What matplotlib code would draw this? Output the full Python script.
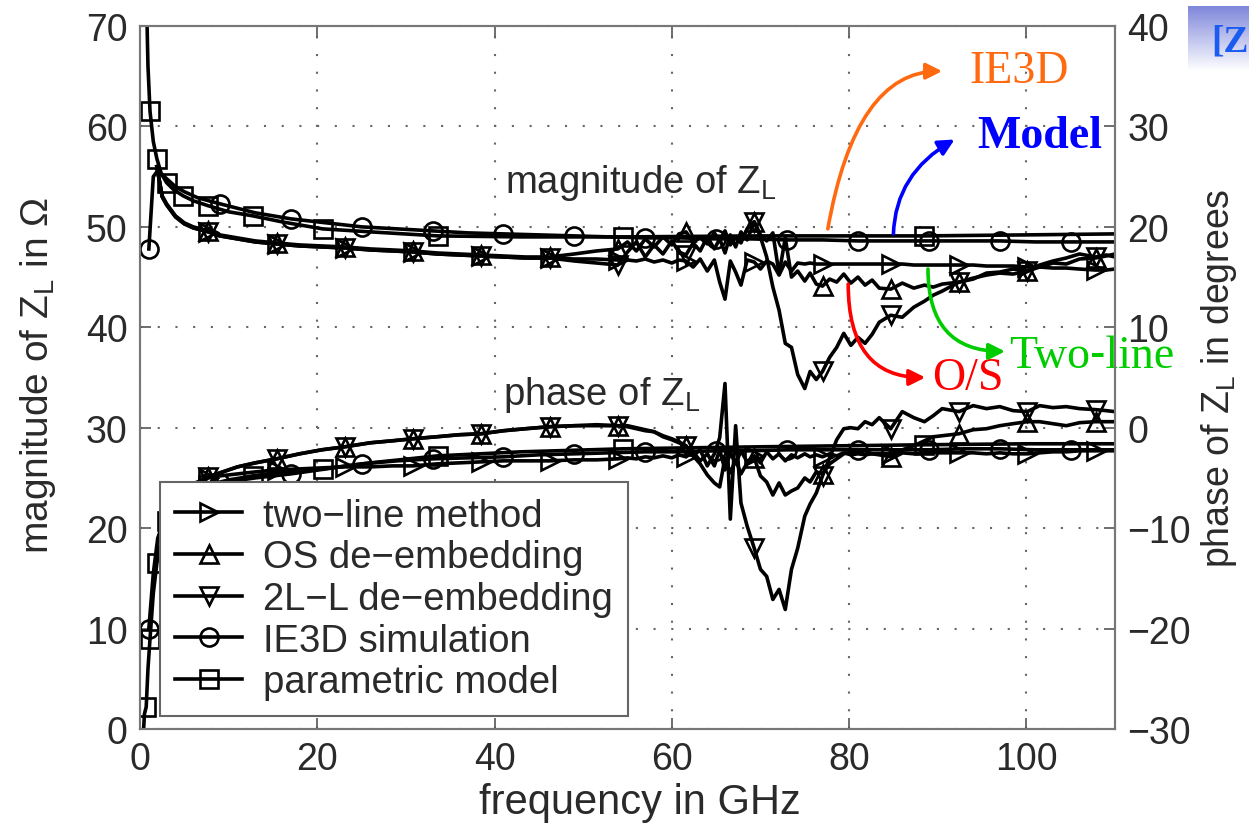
import numpy as np
import matplotlib
matplotlib.use("Agg")
import matplotlib.pyplot as plt

plt.rcParams['font.family'] = ['Liberation Sans', 'DejaVu Sans']
plt.rcParams['mathtext.fontset'] = 'custom'
plt.rcParams['mathtext.rm'] = 'Liberation Sans'
plt.rcParams['mathtext.it'] = 'Liberation Sans:italic'

nan = np.nan

# measured data (two-line, OS, 2L-L) share one frequency grid, GHz
f_meas = [1.9, 2.5, 3, 4, 5, 6,
          7.7, 9, 11, 13,
          15.4, 18, 20.5,
          23.1, 26, 28.5,
          30.8, 33.5, 36,
          38.5, 41, 43.5,
          46.2, 49, 51.5,
          53.9, 55, 56, 57, 58, 59, 60, 60.8,
          61.6, 62.4, 63.2, 64, 64.8, 65.4, 66, 66.6, 67.2, 67.8, 68.5,
          69.3, 70, 70.7, 71.4, 72.1, 72.8, 73.5, 74.2, 75, 75.6, 76.3,
          77, 77.8, 78.6, 79.4, 80.2, 81, 81.8, 82.6, 83.4,
          84.7, 86, 87.3, 88.5, 89.5, 90.5,
          92.4, 94, 95.5, 97, 98.5,
          100.1, 101.5, 103, 104.5, 106,
          107.8, 109, 110]
meas_marks = [7.7, 15.4, 23.1, 30.8, 38.5, 46.2, 53.9, 61.6, 69.3, 77,
              84.7, 92.4, 100.1, 107.8]

twoline_mag = [56.0, 53.0, 52.2, 51.0, 50.3, 49.9,
               49.5, 49.1, 48.8, 48.5,
               48.3, 48.1, 48.0,
               47.9, 47.7, 47.6,
               47.5, 47.3, 47.2,
               47.1, 47.0, 46.9,
               46.9, 46.8, 46.8,
               46.7, 46.7, 46.6, 46.8, 46.5, 46.7, 46.4, 46.7,
               46.6, 46.0, 46.8, 45.6, 46.7, 44.5, 42.8, 46.6, 45.5, 44.2, 46.7,
               46.5, 45.8, 46.6, 46.3, 45.2, 46.5, 45.6, 46.4, 46.3, 46.4, 46.3,
               46.3, 46.3, 46.3, 46.3, 46.3, 46.3, 46.3, 46.3, 46.3,
               46.3, 46.3, 46.2, 46.2, 46.2, 46.2,
               46.2, 46.2, 46.1, 46.1, 46.1,
               46.0, 46.0, 45.9, 45.9, 45.8,
               45.7, 45.7, 45.8]

os_mag = [56.0, 53.1, 52.3, 51.1, 50.4, 50.0,
          49.6, 49.2, 48.9, 48.6,
          48.4, 48.2, 48.1,
          48.0, 47.8, 47.7,
          47.6, 47.4, 47.3,
          47.2, 47.1, 47.0,
          47.0, 47.3, 47.6,
          47.8, 48.5, 47.6, 48.8, 48.0, 49.0, 48.2, 49.3,
          49.5, 48.5, 48.9, 48.3, 49.4, 48.6, 49.6, 48.2, 49.0, 48.4, 49.8,
          50.5, 49.2, 48.6, 49.4, 45.3, 48.9, 45.0, 45.6, 44.6, 45.4, 44.3,
          44.1, 44.8, 44.5, 45.3, 44.4, 45.0, 44.2, 44.7, 43.9,
          43.8, 44.4, 43.9, 44.2, 44.0, 44.3,
          44.5, 44.9, 45.2, 45.4, 45.3,
          45.6, 46.0, 46.4, 46.3, 46.8,
          46.9, 47.1, 47.3]

l2l_mag = [56.0, 53.0, 52.2, 51.0, 50.3, 49.9,
           49.5, 49.1, 48.8, 48.5,
           48.3, 48.1, 48.0,
           47.9, 47.7, 47.6,
           47.5, 47.3, 47.2,
           47.1, 47.0, 46.9,
           46.9, 46.6, 46.4,
           46.2, 47.5, 48.5, 47.0, 48.2, 47.3, 48.6, 47.5,
           47.2, 48.4, 47.6, 49.0, 47.8, 48.8, 47.4, 49.2, 48.0, 49.5, 48.7,
           50.5, 49.0, 47.0, 44.0, 41.7, 38.4, 38.0, 35.3, 33.9, 35.6, 34.8,
           35.6, 37.0, 38.0, 39.4, 38.2, 39.0, 38.4, 39.3, 40.5,
           41.2, 41.0, 42.0, 42.6, 43.2, 43.6,
           44.5, 44.8, 45.4, 45.5, 45.8,
           45.6, 46.2, 46.6, 46.9, 47.3,
           47.0, 47.2, 47.0]

twoline_ph = [nan, -12.5, -10.5, -8.3, -6.9, -6.0,
              -5.0, -4.8, -4.6, -4.4,
              -4.2, -4.1, -4.0,
              -3.9, -3.9, -3.8,
              -3.8, -3.6, -3.5,
              -3.4, -3.3, -3.3,
              -3.3, -3.2, -3.2,
              -3.1, -3.0, -3.1, -2.9, -3.0, -2.8, -3.0, -2.7,
              -2.9, -2.4, -3.3, -2.6, -3.8, -2.2, -4.2, -2.5, -3.6, -2.3, -3.4,
              -2.8, -3.5, -2.4, -3.1, -2.6, -3.3, -2.7, -3.0, -2.6, -2.9, -2.7,
              -2.9, -2.6, -2.8, -2.5, -2.7, -2.6, -2.7, -2.6, -2.6,
              -2.6, -2.5, -2.6, -2.5, -2.5, -2.5,
              -2.5, -2.5, -2.6, -2.5, -2.6,
              -2.6, -2.5, -2.4, -2.4, -2.3,
              -2.3, -2.3, -2.3]

os_ph = [nan, -12.0, -10.0, -7.8, -6.5, -5.6,
         -4.9, -4.5, -3.9, -3.5,
         -3.1, -2.6, -2.2,
         -1.9, -1.5, -1.3,
         -1.1, -0.9, -0.7,
         -0.6, -0.3, -0.1,
         0.1, 0.2, 0.2,
         0.2, 0.1, -0.1, -0.3, -0.4, -0.9, -1.2, -1.5,
         -1.8, -2.8, -3.6, -4.7, -5.5, -5.9, -3.0, -4.5, -3.2, -4.6, -3.5,
         -3.0, -4.8, -5.4, -6.7, -5.5, -6.7, -6.3, -6.0, -5.0, -5.4, -4.4,
         -4.6, -3.6, -3.1, -2.6, -2.4, -2.5, -2.3, -2.6, -2.7,
         -2.9, -2.2, -1.8, -1.3, -0.9, -0.8,
         -0.6, -0.2, -0.1, 0.2, 0.4,
         0.6, 0.6, 0.4, 0.2, 0.5,
         0.6, 0.6, 0.6]

l2l_ph = [nan, -12.2, -10.2, -8.0, -6.6, -5.7,
          -4.9, -4.5, -3.9, -3.5,
          -3.1, -2.6, -2.2,
          -1.9, -1.5, -1.3,
          -1.1, -0.9, -0.7,
          -0.6, -0.3, -0.1,
          0.1, 0.2, 0.3,
          0.2, 0.2, 0.0, -0.2, -0.4, -0.8, -1.1, -1.4,
          -1.8, -2.8, -2.2, -3.8, -2.6, -1.0, 4.4, -9.1, 0.2, -7.5, -9.8,
          -12.0, -14.1, -14.8, -17.1, -16.1, -18.1, -14.1, -12.0, -8.8, -7.6, -6.5,
          -4.8, -3.0, -1.2, -0.1, 0.0, -0.1, 0.6, 0.3, 1.0,
          -0.1, 1.6, 1.0, 0.6, 1.2, 1.9,
          1.6, 2.2, 1.9, 2.1, 1.7,
          1.6, 2.2, 2.0, 2.1, 1.9,
          1.8, 1.7, 1.6]

# IE3D simulation
f_ie3d = [1, 1.5, 2, 3, 4, 5, 6.5, 9, 13, 17, 21, 25, 29, 33, 37, 41, 45, 49,
          53, 57, 61, 65, 69, 73, 77, 81, 85, 89, 93, 97, 101, 105, 110]
ie3d_marks = [1, 9, 17, 25, 33, 41, 49, 57, 65, 73, 81, 89, 97, 105]
ie3d_mag = [47.8, 55.0, 55.6, 54.8, 54.0, 53.5, 52.9, 52.3, 51.4, 50.8, 50.4,
            50.0, 49.8, 49.6, 49.4, 49.3, 49.2, 49.1, 49.0, 48.9, 48.9, 48.8,
            48.8, 48.7, 48.7, 48.6, 48.6, 48.6, 48.6, 48.6, 48.5, 48.5, 48.5]
ie3d_ph = [-20.0, -14.5, -11.0, -8.5, -7.2, -6.5, -6.0, -5.5, -5.0, -4.6, -4.1,
           -3.6, -3.3, -3.1, -3.0, -2.9, -2.7, -2.6, -2.5, -2.4, -2.4, -2.3,
           -2.3, -2.2, -2.2, -2.2, -2.2, -2.2, -2.1, -2.1, -2.2, -2.2, -2.2]

# parametric model
f_model = [0.35, 0.5, 0.7, 0.9, 1.13, 1.5, 1.9, 2.4, 3.0, 3.8, 4.85, 6, 7.7,
           10, 12.7, 16, 20.6, 26, 33.6, 43, 54.5, 70, 88.5, 100, 110]
model_marks = [0.7, 1.13, 1.9, 3.0, 4.85, 7.7, 12.7, 20.6, 33.6, 54.5, 88.5]
model_mag = [110, 88, 74, 66, 61.5, 58.5, 56.8, 55.3, 54.4, 53.7, 53.1, 52.6,
             52.1, 51.5, 51.1, 50.5, 49.8, 49.5, 49.1, 49.0, 49.0, 49.1, 49.1,
             49.2, 49.3]
model_ph = [-31, -28.5, -27.8, -24, -21, -16.5, -13.5, -11, -9.3, -8, -7, -6.3,
            -5.7, -5.2, -4.8, -4.4, -4.1, -3.5, -2.8, -2.4, -2.1, -1.9, -1.7,
            -1.6, -1.6]

labels = ['two\u2212line method', 'OS de\u2212embedding', '2L\u2212L de\u2212embedding',
          'IE3D simulation', 'parametric model']


def marks_idx(freqs, marks):
    return [freqs.index(m) for m in marks]


W, H = 1249, 829
fig = plt.figure(figsize=(W / 100, H / 100), dpi=100)
ax = fig.add_axes([140 / W, 99 / H, 975 / W, 703 / H])
ax2 = ax.twinx()

style = dict(color='black', lw=2.6, ms=13, mfc='none', mec='black', mew=1.9)
series = [
    (f_meas, twoline_mag, twoline_ph, '>', meas_marks),
    (f_meas, os_mag, os_ph, '^', meas_marks),
    (f_meas, l2l_mag, l2l_ph, 'v', meas_marks),
    (f_ie3d, ie3d_mag, ie3d_ph, 'o', ie3d_marks),
    (f_model, model_mag, model_ph, 's', model_marks),
]
handles = []
for (f, mag, ph, mk, marks), lab in zip(series, labels):
    idx = marks_idx(f, marks)
    ax.plot(f, mag, marker=mk, markevery=idx, **style)
    h, = ax2.plot(f, ph, marker=mk, markevery=idx, label=lab, **style)
    handles.append(h)

ax.set_xlim(0, 110)
ax.set_ylim(0, 70)
ax2.set_ylim(-30, 40)
ax.set_xticks(range(0, 101, 20))
ax.set_yticks(range(0, 71, 10))
ax2.set_yticks(range(-30, 41, 10))

tick_col = '#2a2a2a'
ax.tick_params(direction='in', length=8, width=1.2, top=True, right=False,
               labelsize=27, labelcolor=tick_col, color='#555555', pad=9)
ax2.tick_params(direction='in', length=8, width=1.2, labelsize=27,
                labelcolor=tick_col, color='#555555', pad=9)
for a in (ax, ax2):
    for sp in a.spines.values():
        sp.set_color('#777777')
        sp.set_linewidth(1.5)

ax.grid(True, ls=(0, (1, 7.5)), lw=1.5, color='#666666')

ax.set_xlabel('frequency in GHz', fontsize=30, color=tick_col)
ax.xaxis.set_label_coords(0.513, -0.075)
ax.set_ylabel('magnitude of Z$_{\\mathrm{L}}$ in \u03a9', fontsize=28,
              color=tick_col)
ax.yaxis.set_label_coords(-0.084, 0.505)
ax2.set_ylabel('phase of Z$_{\\mathrm{L}}$ in degrees', fontsize=27,
               color=tick_col, labelpad=6)

ax.text(41.2, 54.5, 'magnitude of Z$_{\\mathrm{L}}$', fontsize=27.5,
        color=tick_col, va='center')
ax.text(41.0, 33.4, 'phase of Z$_{\\mathrm{L}}$', fontsize=27.5,
        color=tick_col, va='center')

leg = ax2.legend(handles=handles, loc='upper left', bbox_to_anchor=(0.0205, 0.351),
                 borderaxespad=0, fontsize=27.5, handlelength=1.75, handletextpad=0.55,
                 labelspacing=0.15, borderpad=0.4, frameon=True, fancybox=False,
                 edgecolor='#666666', framealpha=1)
leg.get_frame().set_linewidth(1.5)
for t in leg.get_texts():
    t.set_color(tick_col)

# coloured call-outs
serif = ['Liberation Serif', 'DejaVu Serif']
callouts = [
    ('IE3D', '#ff6a10', (77.6, 49.8), (90.5, 65.5), 'angle3,angleA=80,angleB=0',
     (93.6, 65.5), 'normal'),
    ('Model', '#0000ff', (85.0, 49.3), (91.9, 58.7), 'angle3,angleA=88,angleB=30',
     (94.5, 59.0), 'bold'),
    ('O/S', '#ff0000', (79.9, 44.3), (88.6, 35.0), 'angle3,angleA=-90,angleB=0',
     (89.4, 35.0), 'normal'),
    ('Two\u2011line', '#00cc00', (88.9, 45.8), (97.6, 37.6), 'angle3,angleA=-90,angleB=0',
     (98.1, 37.2), 'normal'),
]
for txt, col, start, tip, conn, tpos, wt in callouts:
    ax.annotate('', xy=tip, xytext=start, annotation_clip=False,
                arrowprops=dict(arrowstyle='-|>', color=col, lw=2.6, mutation_scale=24,
                                connectionstyle=conn, shrinkA=0, shrinkB=0))
    ax.text(tpos[0], tpos[1], txt, color=col, fontsize=33, family=serif,
            weight=wt, va='center', ha='left', clip_on=False)

# cropped slide header at top right
gax = fig.add_axes([1188 / W, 1 - 72 / H, 61 / W, 65 / H])
grad = np.linspace(0, 1, 64)[:, None]
top = np.array([0.50, 0.53, 0.86])
img = top[None, None, :] * (1 - grad[:, :, None]) + grad[:, :, None]
gax.imshow(img, aspect='auto', extent=(0, 1, 0, 1))
gax.axis('off')
fig.text(1211 / W, 1 - 42 / H, '[Z', color='#1a5cf0', fontsize=27, family=serif,
         weight='bold', va='center', ha='left')

fig.savefig('out.png', dpi=100)
